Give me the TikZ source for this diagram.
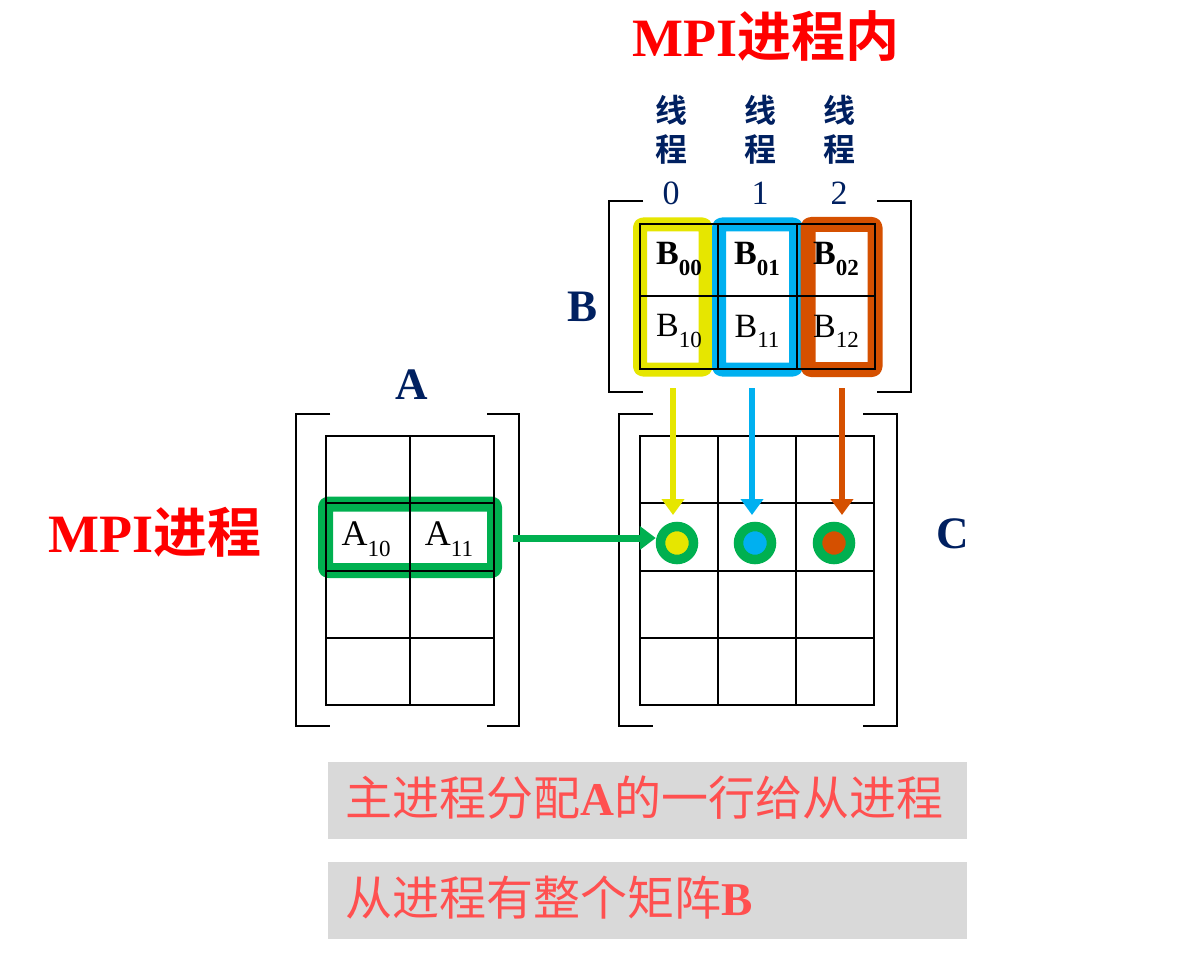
\documentclass[tikz,border=0pt]{standalone}
\usepackage{fontspec}
\setmainfont{Liberation Serif}
\newfontfamily\cjk{Noto Sans CJK SC}[BoldFont={Noto Sans CJK SC Bold}]
\usetikzlibrary{arrows.meta}
\definecolor{navy}{HTML}{002060}
\definecolor{hlyellow}{HTML}{E6E600}
\definecolor{hlblue}{HTML}{00B0F0}
\definecolor{hlorange}{HTML}{D55000}
\definecolor{hlgreen}{HTML}{00B050}
\definecolor{salmon}{HTML}{FF5050}
\definecolor{boxgray}{HTML}{D9D9D9}
\newcommand{\fsz}[1]{\fontsize{#1}{#1}\selectfont}
\newcommand{\mysub}[1]{\raisebox{-0.3em}{\fsz{23}#1}}
\tikzset{
  gridline/.style={line width=2pt, black},
  bracketline/.style={line width=2.5pt, black, line join=miter},
  hlbox/.style={rounded corners=3pt, inner sep=0pt, line join=round},
  ring/.style={circle, draw=hlgreen, line width=9.5pt, minimum size=33pt, inner sep=0pt},
  arr/.style={line width=6.5pt, -{Triangle[length=16pt,width=22pt]}},
  celltxt/.style={inner sep=0pt, font=\fsz{34}},
  thr/.style={inner sep=0pt, text=navy, font=\fsz{32}},
  mlabel/.style={inner sep=0pt, anchor=base, text=navy, font=\fsz{45}\bfseries},
  redtitle/.style={inner sep=0pt, text=red, font=\fsz{54}\bfseries},
  graybox/.style={fill=boxgray, minimum width=639pt, minimum height=77pt, inner sep=0pt, anchor=north west},
  graytxt/.style={inner sep=0pt, anchor=base west, text=salmon, font=\fsz{47}}
}
\begin{document}
\begin{tikzpicture}[x=1pt,y=-1pt]
\useasboundingbox[fill=white] (0,0) rectangle (1186,960);

% ---------- titles ----------
\node[redtitle, anchor=base] (title) at (766,57) {MPI{\cjk\bfseries 进程内}};
\node[redtitle, anchor=base west] (mpil) at (48,552) {MPI{\cjk\bfseries 进程}};

% thread labels
\node[thr] (t0a) at (671,110) {\cjk\bfseries 线};
\node[thr] (t0b) at (671,150) {\cjk\bfseries 程};
\node[thr, font=\fsz{34}] (t0c) at (671,193) {0};
\node[thr] (t1a) at (760,110) {\cjk\bfseries 线};
\node[thr] (t1b) at (760,150) {\cjk\bfseries 程};
\node[thr, font=\fsz{34}] (t1c) at (760,193) {1};
\node[thr] (t2a) at (839,110) {\cjk\bfseries 线};
\node[thr] (t2b) at (839,150) {\cjk\bfseries 程};
\node[thr, font=\fsz{34}] (t2c) at (839,193) {2};

% ---------- matrix B ----------
\node[hlbox, draw=hlyellow, line width=14pt, minimum width=65.5pt, minimum height=145pt] (hy) at (672.75,297) {};
\node[hlbox, draw=hlblue, line width=14pt, minimum width=77pt, minimum height=145pt] (hb) at (757.5,297) {};
\node[hlbox, draw=hlorange, line width=15pt, minimum width=67pt, minimum height=145pt] (ho) at (841.5,297) {};
\draw[gridline] (640,224) rectangle (875,369);
\draw[gridline] (718,224) -- (718,369);
\draw[gridline] (797,224) -- (797,369);
\draw[gridline] (640,296) -- (875,296);
\draw[bracketline] (643,201) -| (609,392) -- (643,392);
\draw[bracketline] (877,201) -| (911,392) -- (877,392);
\node[celltxt] (b00) at (679,259) {\bfseries B\mysub{00}};
\node[celltxt] (b01) at (757,259) {\bfseries B\mysub{01}};
\node[celltxt] (b02) at (836,259) {\bfseries B\mysub{02}};
\node[celltxt] (b10) at (679,331) {B\mysub{10}};
\node[celltxt] (b11) at (757,331) {B\mysub{11}};
\node[celltxt] (b12) at (836,331) {B\mysub{12}};
\node[mlabel] (lb) at (583,321) {B};

% ---------- matrix A ----------
\node[hlbox, draw=hlgreen, line width=15pt, minimum width=169pt, minimum height=66.5pt] (arow) at (410,537.25) {};
\draw[gridline] (326,436) rectangle (494,705);
\draw[gridline] (410,436) -- (410,705);
\foreach \yy in {503,571,638} \draw[gridline] (326,\yy) -- (494,\yy);
\draw[bracketline] (330,414) -| (296,726) -- (330,726);
\draw[bracketline] (487,414) -| (519,726) -- (487,726);
\node[celltxt, font=\fsz{36}] (a10) at (366,539) {A\mysub{10}};
\node[celltxt, font=\fsz{36}] (a11) at (449,539) {A\mysub{11}};
\node[mlabel] (la) at (412,399) {A};

% ---------- matrix C ----------
\draw[gridline] (640,436) rectangle (874,705);
\draw[gridline] (718,436) -- (718,705);
\draw[gridline] (796,436) -- (796,705);
\foreach \yy in {503,571,638} \draw[gridline] (640,\yy) -- (874,\yy);
\draw[bracketline] (653,414) -| (619,726) -- (653,726);
\draw[bracketline] (863,414) -| (897,726) -- (863,726);
\node[ring, fill=hlyellow] (c0) at (677,543) {};
\node[ring, fill=hlblue] (c1) at (755,543) {};
\node[ring, fill=hlorange] (c2) at (834,543) {};
\node[mlabel] (lc) at (953,548) {C};

% ---------- arrows ----------
\coordinate (ya) at (673,388);
\coordinate (yb) at (673,515);
\coordinate (ba) at (752,388);
\coordinate (bb) at (752,515);
\coordinate (oa) at (842,388);
\coordinate (ob) at (842,515);
\coordinate (ga) at (513,538);
\draw[arr, hlyellow] (ya) -- (yb);
\draw[arr, hlblue] (ba) -- (bb);
\draw[arr, hlorange] (oa) -- (ob);
\draw[line width=7pt, hlgreen, -{Triangle[length=16pt,width=23pt]}] (ga) -- (c0.west |- ga);

% ---------- bottom notes ----------
\node[graybox] (box1) at (328,762) {};
\node[graybox] (box2) at (328,862) {};
\node[graytxt] (txt1) at (345,815) {{\cjk 主进程分配}{\bfseries A}{\cjk 的一行给从进程}};
\node[graytxt] (txt2) at (345,915) {{\cjk 从进程有整个矩阵}{\bfseries B}};
\end{tikzpicture}
\end{document}
